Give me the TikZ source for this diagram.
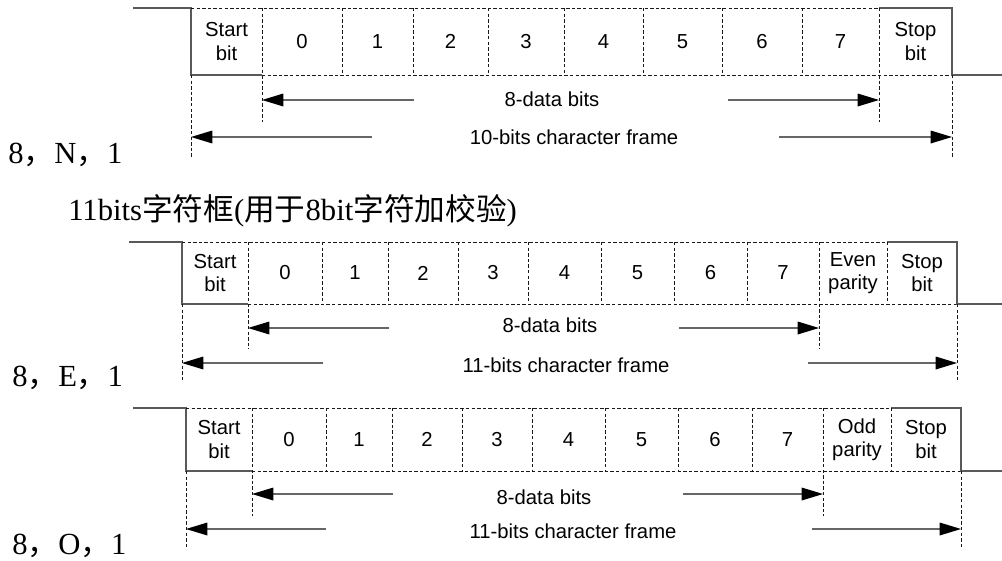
\documentclass[tikz,border=0pt]{standalone}
\usepackage{fontspec}
\setmainfont{Liberation Serif}
\newfontfamily\cellfont{Liberation Sans}
\newfontfamily\cjk{Noto Sans CJK SC}
\usetikzlibrary{arrows.meta}

\begin{document}
\begin{tikzpicture}[x=0.75pt,y=0.75pt,yscale=-1,xscale=1,
  sigline/.style={draw=black!65,line width=0.9pt},
  tickline/.style={draw=black!90,line width=0.6pt,dash pattern=on 2.6pt off 1.6pt},
  darrow/.style={draw=black!60,line width=0.9pt,-{Triangle[length=16pt,width=9.5pt,color=black,fill=black]}},
  cell/.style={font=\cellfont\fontsize{15.2}{17.5}\selectfont,align=center,inner sep=0.75pt},
  span/.style={font=\cellfont\fontsize{15.2}{17.5}\selectfont,inner sep=0.75pt},
  rowlabel/.style={font=\fontsize{23}{26}\selectfont,anchor=west,inner sep=0pt}]
\useasboundingbox (0,0) rectangle (1002,560);

%Frame: 8,N,1
%Straight Lines
\draw[sigline] (133,8) -- (191,8) -- (191,75) -- (262,75) ;
\draw[tickline] (191,8) -- (879,8) (262,75) -- (952,75) ;
\draw[sigline] (879,8) -- (952,8) -- (952,75) -- (1002,75) ;
\draw[tickline] (262,8) -- (262,122) (342,8) -- (342,75) (413,8) -- (413,75) (488,8) -- (488,75) (564,8) -- (564,75) (643,8) -- (643,75) (722,8) -- (722,75) (802,8) -- (802,75) (879,8) -- (879,122) ;
\draw[tickline] (191,75) -- (191,158) (952,75) -- (952,158) ;
% Text Node
\node[cell] (f1start) at (226.5,41.5) {Start\\bit};
\node[cell] (f1b0) at (302,41.5) {0};
\node[cell] (f1b1) at (377.5,41.5) {1};
\node[cell] (f1b2) at (450.5,41.5) {2};
\node[cell] (f1b3) at (526,41.5) {3};
\node[cell] (f1b4) at (603.5,41.5) {4};
\node[cell] (f1b5) at (682.5,41.5) {5};
\node[cell] (f1b6) at (762,41.5) {6};
\node[cell] (f1b7) at (840.5,41.5) {7};
\node[cell] (f1stop) at (915.5,41.5) {Stop\\bit};
%Arrows
\node[span] (f1data) at (552,99) {8-data bits};
\node[span] (f1frame) at (574,137) {10-bits character frame};
\coordinate (f1dl) at (414,100); \coordinate (f1d0) at (262,100);
\coordinate (f1dr) at (728,100); \coordinate (f1d7) at (879,100);
\coordinate (f1fl) at (372,137); \coordinate (f1fs) at (191,137);
\coordinate (f1fr) at (779,137); \coordinate (f1fe) at (952,137);
\draw[darrow] (f1dl) -- (f1d0) ;
\draw[darrow] (f1dr) -- (f1d7) ;
\draw[darrow] (f1fl) -- (f1fs) ;
\draw[darrow] (f1fr) -- (f1fe) ;
\node[rowlabel] (lblN) at (8,155) {8{\cjk ，}N{\cjk ，}1};

% Text Node
\node[rowlabel] (title) at (68,211) {11bits{\cjk 字符框}({\cjk 用于}8bit{\cjk 字符加校验})};

%Frame: 8,E,1
%Straight Lines
\draw[sigline] (129,242) -- (182,242) -- (182,304) -- (248,304) ;
\draw[tickline] (182,242) -- (887,242) (248,304) -- (957,304) ;
\draw[sigline] (887,242) -- (957,242) -- (957,304) -- (1002,304) ;
\draw[tickline] (248,242) -- (248,349) (322,242) -- (322,304) (388,242) -- (388,304) (458,242) -- (458,304) (528,242) -- (528,304) (601,242) -- (601,304) (674,242) -- (674,304) (747,242) -- (747,304) (819,242) -- (819,349) (887,242) -- (887,304) ;
\draw[tickline] (182,304) -- (182,382) (957,304) -- (957,382) ;
% Text Node
\node[cell] (f2start) at (215,273) {Start\\bit};
\node[cell] (f2b0) at (285,273) {0};
\node[cell] (f2b1) at (355,273) {1};
\node[cell] (f2b2) at (423,273) {2};
\node[cell] (f2b3) at (493,273) {3};
\node[cell] (f2b4) at (564.5,273) {4};
\node[cell] (f2b5) at (637.5,273) {5};
\node[cell] (f2b6) at (710.5,273) {6};
\node[cell] (f2b7) at (783,273) {7};
\node[cell] (f2par) at (853,273) {Even\\parity};
\node[cell] (f2stop) at (922,273) {Stop\\bit};
%Arrows
\node[span] (f2data) at (550,325) {8-data bits};
\node[span] (f2frame) at (566,365) {11-bits character frame};
\coordinate (f2dl) at (389,328); \coordinate (f2d0) at (248,328);
\coordinate (f2dr) at (679,328); \coordinate (f2d7) at (819,328);
\coordinate (f2fl) at (323,363); \coordinate (f2fs) at (182,363);
\coordinate (f2fr) at (808,363); \coordinate (f2fe) at (957,363);
\draw[darrow] (f2dl) -- (f2d0) ;
\draw[darrow] (f2dr) -- (f2d7) ;
\draw[darrow] (f2fl) -- (f2fs) ;
\draw[darrow] (f2fr) -- (f2fe) ;
\node[rowlabel] (lblE) at (12,378) {8{\cjk ，}E{\cjk ，}1};

%Frame: 8,O,1
%Straight Lines
\draw[sigline] (133,408) -- (186,408) -- (186,471) -- (252,471) ;
\draw[tickline] (186,408) -- (891,408) (252,471) -- (961,471) ;
\draw[sigline] (891,408) -- (961,408) -- (961,471) -- (1002,471) ;
\draw[tickline] (252,408) -- (252,516) (326,408) -- (326,471) (392,408) -- (392,471) (462,408) -- (462,471) (532,408) -- (532,471) (605,408) -- (605,471) (678,408) -- (678,471) (752,408) -- (752,471) (823,408) -- (823,516) (891,408) -- (891,471) ;
\draw[tickline] (186,471) -- (186,549) (961,471) -- (961,549) ;
% Text Node
\node[cell] (f3start) at (219,439.5) {Start\\bit};
\node[cell] (f3b0) at (289,439.5) {0};
\node[cell] (f3b1) at (359,439.5) {1};
\node[cell] (f3b2) at (427,439.5) {2};
\node[cell] (f3b3) at (497,439.5) {3};
\node[cell] (f3b4) at (568.5,439.5) {4};
\node[cell] (f3b5) at (641.5,439.5) {5};
\node[cell] (f3b6) at (715,439.5) {6};
\node[cell] (f3b7) at (787.5,439.5) {7};
\node[cell] (f3par) at (857,439.5) {Odd\\parity};
\node[cell] (f3stop) at (926,439.5) {Stop\\bit};
%Arrows
\node[span] (f3data) at (544,497) {8-data bits};
\node[span] (f3frame) at (573,531) {11-bits character frame};
\coordinate (f3dl) at (393,494); \coordinate (f3d0) at (252,494);
\coordinate (f3dr) at (683,494); \coordinate (f3d7) at (823,494);
\coordinate (f3fl) at (326,529); \coordinate (f3fs) at (186,529);
\coordinate (f3fr) at (812,529); \coordinate (f3fe) at (961,529);
\draw[darrow] (f3dl) -- (f3d0) ;
\draw[darrow] (f3dr) -- (f3d7) ;
\draw[darrow] (f3fl) -- (f3fs) ;
\draw[darrow] (f3fr) -- (f3fe) ;
\node[rowlabel] (lblO) at (12,546) {8{\cjk ，}O{\cjk ，}1};
\end{tikzpicture}
\end{document}
